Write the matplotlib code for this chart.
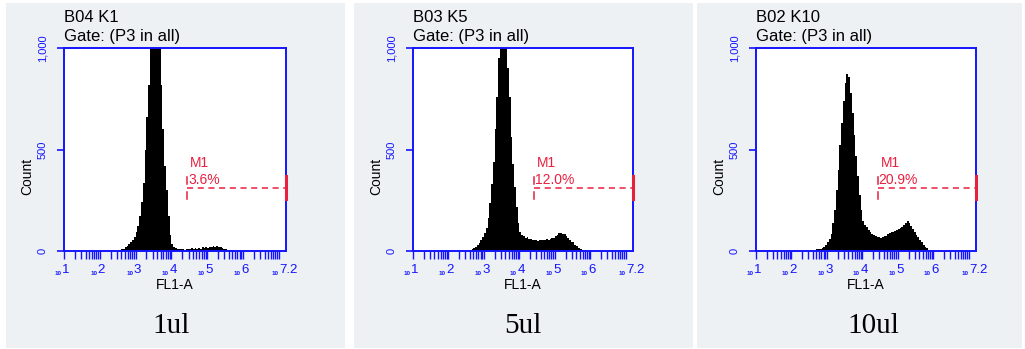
import numpy as np
import matplotlib.pyplot as plt
from matplotlib.patches import Rectangle
from matplotlib.ticker import FixedLocator, NullFormatter

W, H = 1025, 349

# FL1-A histogram channels, x in log10(FL1-A): edges start at 2.5, 0.05 decade wide
bin_start = 2.5
bin_width = 0.05

counts_1ul = [3, 5, 8, 12, 18, 25, 33, 42, 52, 70,
              93, 125, 170, 240, 335, 500, 660, 820, 1050, 1400,
              1600, 1600, 1400, 1100, 820, 600, 420, 300, 170, 80,
              33, 18, 14, 10, 9, 11, 8, 7, 10, 12,
              9, 14, 11, 13, 10, 15, 12, 18, 14, 20,
              16, 22, 18, 26, 21, 27, 22, 18, 14, 10,
              8, 7, 5, 4, 3, 2, 0, 0, 0, 0]

counts_5ul = [0, 3, 5, 8, 13, 20, 28, 40, 55, 68,
              90, 115, 165, 235, 330, 440, 600, 760, 950, 1200,
              1500, 1500, 1250, 900, 760, 560, 430, 315, 215, 140,
              92, 80, 75, 62, 70, 58, 60, 52, 56, 54,
              50, 56, 52, 55, 53, 58, 55, 60, 62, 66,
              72, 80, 88, 90, 86, 82, 72, 62, 52, 46,
              42, 32, 24, 15, 9, 4, 1, 0, 0, 0]

counts_10ul = [0, 2, 4, 6, 8, 10, 12, 14, 20, 30,
               42, 60, 85, 140, 200, 300, 400, 520, 630, 740,
               830, 870, 855, 780, 680, 570, 470, 370, 275, 200,
               150, 130, 118, 102, 92, 85, 78, 72, 70, 68,
               66, 68, 72, 76, 82, 88, 92, 95, 100, 104,
               108, 112, 118, 126, 138, 150, 140, 124, 110, 96,
               80, 68, 55, 42, 32, 22, 13, 6, 2, 0]

titles = ['B04 K1', 'B03 K5', 'B02 K10']
captions = ['1ul', '5ul', '10ul']
gate_pct = ['3.6%', '12.0%', '20.9%']
gate_start = [4.44, 4.41, 4.43]   # log10 FL1-A
gate_end = 7.2
gate_level = 312
x_decades = [1, 2, 3, 4, 5, 6, 7]
x_labels = ['1', '2', '3', '4', '5', '6', '7.2']
x_label_at = [1, 2, 3, 4, 5, 6, 7.2]
y_ticks = [0, 500, 1000]
y_labels = ['0', '500', '1,000']

all_counts = [counts_1ul, counts_5ul, counts_10ul]

# layout in pixels
panel_x = [(6, 345), (354, 693), (697, 1022)]
axes_x = [(64, 286), (413, 633), (756, 976)]
axes_top, axes_bot = 48, 251
caption_x = [171, 523, 873]

blue = '#1414ff'
red = '#e8203f'
bg = '#edf1f4'
sans = 'Liberation Sans'
serif = 'Liberation Serif'


def fx(px):
    return px / W


def fy(py):
    return 1 - py / H


fig = plt.figure(figsize=(W / 100, H / 100), dpi=100)
fig.patch.set_facecolor('white')

for i in range(3):
    p0, p1 = panel_x[i]
    fig.add_artist(Rectangle((fx(p0), fy(348)), fx(p1 - p0), 345 / H,
                             transform=fig.transFigure, facecolor=bg,
                             edgecolor='none', zorder=0))

    a0, a1 = axes_x[i]
    ax = fig.add_axes([fx(a0), fy(axes_bot), fx(a1 - a0), (axes_bot - axes_top) / H])
    ax.set_facecolor('white')

    counts = np.array(all_counts[i], dtype=float)
    edges = bin_start + bin_width * np.arange(len(counts) + 1)
    ax.stairs(counts, edges, fill=True, color='black', linewidth=0)

    ax.set_xlim(1, 7.2)
    ax.set_ylim(0, 1000)

    for s in ax.spines.values():
        s.set_color(blue)
        s.set_linewidth(1.4)
        s.set_zorder(4)

    minor = [d + np.log10(m) for d in x_decades[:-1] for m in range(2, 10)]
    ax.xaxis.set_major_locator(FixedLocator(x_decades))
    ax.xaxis.set_minor_locator(FixedLocator(minor))
    ax.xaxis.set_major_formatter(NullFormatter())
    ax.xaxis.set_minor_formatter(NullFormatter())
    ax.tick_params(axis='x', which='both', direction='out', length=5.5,
                   width=1.0, colors=blue)

    ax.set_yticks(y_ticks)
    ax.set_yticklabels(y_labels, rotation=90, va='center',
                       fontsize=8, family=sans)
    ax.tick_params(axis='y', direction='out', length=5, width=1.2,
                   colors=blue, pad=7)

    # x tick labels: tiny "10" followed by the exponent
    for lab, pos in zip(x_labels, x_label_at):
        shift = -2.5 * len(lab)
        ax.annotate('10', xy=(pos, 0), xycoords=('data', 'axes fraction'),
                    xytext=(shift, -24), textcoords='offset pixels',
                    fontsize=4.5, color=blue, ha='right', va='baseline',
                    family=sans, fontweight='bold')
        ax.annotate(lab, xy=(pos, 0), xycoords=('data', 'axes fraction'),
                    xytext=(shift + 0.5, -22), textcoords='offset pixels',
                    fontsize=9.5, color=blue, ha='left', va='baseline', family=sans)

    # M1 gate marker
    g0 = gate_start[i]
    g1 = gate_end
    ax.plot([g0, g1], [gate_level, gate_level], color=red, lw=1.1,
            dashes=(4, 3), clip_on=False)
    ax.plot([g0, g0], [gate_level - 55, gate_level - 22], color=red, lw=1.1)
    ax.plot([g0, g0], [gate_level + 18, gate_level + 53], color=red, lw=1.1)
    ax.plot([g1, g1], [gate_level - 55, gate_level + 55], color=red, lw=2.2,
            clip_on=False, zorder=5)
    ax.annotate('M1', xy=(g0, gate_level), xytext=(3, 21),
                textcoords='offset pixels', fontsize=10, color=red,
                ha='left', va='baseline', family=sans)
    ax.annotate(gate_pct[i], xy=(g0, gate_level), xytext=(1, 4),
                textcoords='offset pixels', fontsize=10, color=red,
                ha='left', va='baseline', family=sans)

    # texts around the plot
    fig.text(fx(a0), fy(18), titles[i], fontsize=12, family=sans,
             ha='left', va='center')
    fig.text(fx(a0), fy(37), 'Gate: (P3 in all)', fontsize=12, family=sans,
             ha='left', va='center')
    fig.text(fx(a0 - 37), fy(176), 'Count', fontsize=10, family=sans,
             rotation=90, ha='center', va='center')
    fig.text(fx((a0 + a1) / 2), fy(285), 'FL1-A', fontsize=10, family=sans,
             ha='center', va='center')
    fig.text(fx(caption_x[i]), fy(326), captions[i], fontsize=21, family=serif,
             ha='center', va='center')

fig.savefig('out.png', dpi=100, facecolor='white')
